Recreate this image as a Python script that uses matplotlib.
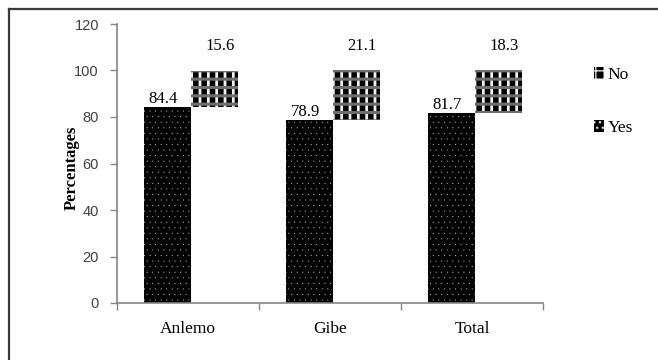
import matplotlib
matplotlib.use("Agg")
import matplotlib.pyplot as plt
from matplotlib.lines import Line2D
from matplotlib.patches import Patch

categories = ["Anlemo", "Gibe", "Total"]
yes_vals = [84.4, 78.9, 81.7]
no_vals = [15.6, 21.1, 18.3]
y_ticks = [0, 20, 40, 60, 80, 100, 120]

W, H = 658, 360
fig = plt.figure(figsize=(W / 100, H / 100), dpi=100)
ax = fig.add_axes([117 / W, 1 - 303 / H, (543 - 117) / W, (303 - 24) / H])

serif = "Liberation Serif"
sans = "Liberation Sans"
axis_grey = "#868686"


def hatched_bar(x, h, bottom, width, face, hatch, hcolor, hlw):
    with plt.rc_context({"hatch.linewidth": hlw}):
        bars = ax.bar(x, h, width=width, bottom=bottom, align="edge",
                      color=face, edgecolor=hcolor, linewidth=0, hatch=hatch)
    for b in bars:
        if hasattr(b, "set_hatch_linewidth"):
            b.set_hatch_linewidth(hlw)
    return bars


def hatched_patch(face, hatch, hcolor, hlw):
    with plt.rc_context({"hatch.linewidth": hlw}):
        p = Patch(facecolor=face, edgecolor=hcolor, hatch=hatch, linewidth=0)
    if hasattr(p, "set_hatch_linewidth"):
        p.set_hatch_linewidth(hlw)
    return p


xs = list(range(len(categories)))
bw = 0.33
yes_left = [x - 0.31 for x in xs]
no_left = [x + 0.02 for x in xs]

# Yes: black with fine light dots
hatched_bar(yes_left, yes_vals, 0, bw, "black", "...", "#d0d0d0", 0.0)
# No: woven black blocks on top of the Yes share
hatched_bar(no_left, no_vals, yes_vals, bw, "#f2f2f2", "||", "black", 4.0)
hatched_bar(no_left, no_vals, yes_vals, bw, "none", "--", "#6e6e6e", 2.2)

for i in xs:
    ax.text(yes_left[i] + bw / 2 - 0.03, yes_vals[i] + 1.6, f"{yes_vals[i]}",
            ha="center", va="baseline", fontsize=12, family=serif)
    ax.text(no_left[i] + bw / 2 + 0.04, 110.5, f"{no_vals[i]}",
            ha="center", va="center", fontsize=12, family=serif)

ax.set_xlim(-0.5, 2.5)
ax.set_ylim(0, 120)
ax.set_yticks(y_ticks)
ax.set_yticklabels([str(t) for t in y_ticks], family=sans, fontsize=10.5,
                   color="#404040")
ax.set_xticks(xs)
ax.set_xticklabels(categories, family=serif, fontsize=12.5)
ax.set_xticks([-0.5, 0.5, 1.5, 2.5], minor=True)
ax.tick_params(axis="x", which="major", length=0, pad=13)
ax.tick_params(axis="x", which="minor", length=5, color=axis_grey, width=1)
ax.tick_params(axis="y", length=5, color=axis_grey, width=1, pad=8)

for s in ("top", "right"):
    ax.spines[s].set_visible(False)
for s in ("left", "bottom"):
    ax.spines[s].set_color(axis_grey)
    ax.spines[s].set_linewidth(1.2)

fig.text(72 / W, 1 - 168 / H, "Percentages", rotation=90, ha="center",
         va="center", fontsize=12, fontweight="bold", family=serif)

# Legend
h_no = hatched_patch("black", "++", "#e0e0e0", 0.8)
h_yes = hatched_patch("black", "...", "#d0d0d0", 0.0)
fig.legend([h_no, h_yes], ["No", "Yes"], loc="upper left",
           bbox_to_anchor=(594 / W, 1 - 67 / H), frameon=False,
           prop={"family": serif, "size": 12.5}, handlelength=0.6,
           handleheight=0.7, handletextpad=0.2, labelspacing=2.1,
           borderaxespad=0, borderpad=0)

# Outer frame (left and top edges)
fy = 1 - 9 / H
fx = 9 / W
fig.add_artist(Line2D([fx, fx], [0, fy], transform=fig.transFigure,
                      color="#3a3a3a", linewidth=1.6))
fig.add_artist(Line2D([fx, 1], [fy, fy], transform=fig.transFigure,
                      color="#3a3a3a", linewidth=1.6))

fig.savefig("out.png", dpi=100)
